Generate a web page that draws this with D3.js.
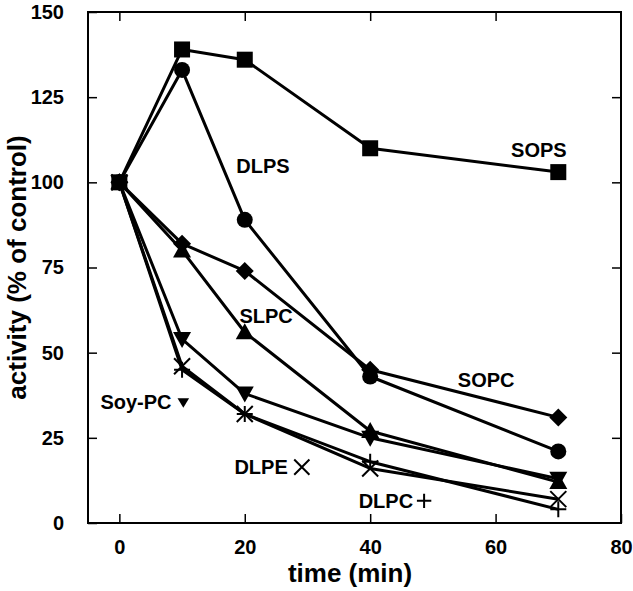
<!DOCTYPE html>
<html><head><meta charset="utf-8">
<script src="https://cdn.jsdelivr.net/npm/d3@7"></script>
<style>body{margin:0;background:#fff}svg text{font-family:"Liberation Sans",Arial,sans-serif;font-weight:bold;fill:#000}</style>
</head><body><svg id="c" width="633" height="591"></svg>
<script>
const times = [0, 10, 20, 40, 70];
const sops  = [100, 139, 136, 110, 103];
const dlps  = [100, 133, 89, 43, 21];
const sopc  = [100, 82, 74, 45, 31];
const slpc  = [100, 80, 56, 27, 12];
const soypc = [100, 54, 38, 25, 13];
const dlpe  = [100, 46, 32, 16, 7];
const dlpc  = [100, 45, 32, 18, 4];
const xTicks = [0, 20, 40, 60, 80];
const yTicks = [0, 25, 50, 75, 100, 125, 150];

const series = [
  {name:"SOPS", values:sops, marker:"square"},
  {name:"DLPS", values:dlps, marker:"circle"},
  {name:"SOPC", values:sopc, marker:"diamond"},
  {name:"SLPC", values:slpc, marker:"triangleUp"},
  {name:"Soy-PC", values:soypc, marker:"triangleDown"},
  {name:"DLPE", values:dlpe, marker:"x"},
  {name:"DLPC", values:dlpc, marker:"plus"}
];

const svg = d3.select("#c");
const L=88, R=621, T=12, B=523;
const x = d3.scaleLinear().domain([-5,80]).range([L,R]);
const y = d3.scaleLinear().domain([0,150]).range([B,T]);

// frame
svg.append("rect").attr("x",L).attr("y",T).attr("width",R-L).attr("height",B-T)
  .attr("fill","none").attr("stroke","#000").attr("stroke-width",2);

const tl = 9;
const ax = svg.append("g").attr("transform",`translate(0,${B})`)
  .call(d3.axisBottom(x).tickValues(xTicks).tickSizeInner(-tl).tickSizeOuter(0).tickPadding(tl+8));
const ay = svg.append("g").attr("transform",`translate(${L},0)`)
  .call(d3.axisLeft(y).tickValues(yTicks).tickSizeInner(-tl).tickSizeOuter(0).tickPadding(tl+15));
const axT = svg.append("g").attr("transform",`translate(0,${T})`)
  .call(d3.axisTop(x).tickValues(xTicks.filter(d=>d<80)).tickSizeInner(-tl).tickSizeOuter(0).tickFormat(""));
const ayR = svg.append("g").attr("transform",`translate(${R},0)`)
  .call(d3.axisRight(y).tickValues(yTicks.filter(d=>d>0&&d<150)).tickSizeInner(-tl).tickSizeOuter(0).tickFormat(""));
[ax,ay,axT,ayR].forEach(g=>{
  g.select(".domain").remove();
  g.selectAll("line").attr("stroke","#000").attr("stroke-width",1.5);
  g.selectAll("text").style("font-size","20px").style("font-family","Liberation Sans, Arial, sans-serif").style("font-weight","bold");
});

// lines
const line = d3.line().x((d,i)=>x(times[i])).y(d=>y(d));
svg.append("g").selectAll("path").data(series).join("path")
  .attr("d",d=>line(d.values)).attr("fill","none").attr("stroke","#000")
  .attr("stroke-width",3).attr("stroke-linejoin","round");

// markers
function drawMarker(g, type, cx, cy, k){
  k = k || 1;
  const h = 8*k;
  if(type==="square") g.append("rect").attr("x",cx-h).attr("y",cy-h).attr("width",2*h).attr("height",2*h).attr("fill","#000");
  else if(type==="circle") g.append("circle").attr("cx",cx).attr("cy",cy).attr("r",h).attr("fill","#000");
  else if(type==="diamond") g.append("path").attr("d",`M${cx},${cy-h-1}L${cx+h+1},${cy}L${cx},${cy+h+1}L${cx-h-1},${cy}Z`).attr("fill","#000");
  else if(type==="triangleUp") g.append("path").attr("d",`M${cx},${cy-h-1}L${cx+h+1},${cy+h-1}L${cx-h-1},${cy+h-1}Z`).attr("fill","#000");
  else if(type==="triangleDown") g.append("path").attr("d",`M${cx},${cy+h+1}L${cx+h+1},${cy-h+1}L${cx-h-1},${cy-h+1}Z`).attr("fill","#000");
  else if(type==="x") g.append("path").attr("d",`M${cx-h},${cy-h}L${cx+h},${cy+h}M${cx+h},${cy-h}L${cx-h},${cy+h}`).attr("stroke","#000").attr("stroke-width",2);
  else if(type==="plus") g.append("path").attr("d",`M${cx-h},${cy}L${cx+h},${cy}M${cx},${cy-h}L${cx},${cy+h}`).attr("stroke","#000").attr("stroke-width",2);
}
const mg = svg.append("g");
series.forEach(s=>s.values.forEach((v,i)=>drawMarker(mg, s.marker, x(times[i]), y(v))));

// series labels (positions in data units)
const labels = [
  {text:"SOPS", t:66.9, v:109.5},
  {text:"DLPS", t:22.9, v:104.8},
  {text:"SLPC", t:23.4, v:60.8},
  {text:"SOPC", t:58.5, v:42.0},
  {text:"Soy-PC", t:2.65, v:35.5, marker:"triangleDown", mt:10.2, k:0.6},
  {text:"DLPE", t:22.6, v:16.4, marker:"x", mt:29.1, k:0.95},
  {text:"DLPC", t:42.5, v:6.5, marker:"plus", mt:48.6, k:0.9}
];
const lg = svg.append("g");
labels.forEach(d=>{
  lg.append("text").attr("x",x(d.t)).attr("y",y(d.v)).attr("text-anchor","middle")
    .attr("dy","0.35em").style("font-size","20px").text(d.text);
  if(d.marker) drawMarker(lg, d.marker, x(d.mt), y(d.v), d.k);
});

// axis titles
svg.append("text").attr("x",350).attr("y",582).attr("text-anchor","middle")
  .style("font-size","26px").text("time (min)");
svg.append("text").attr("transform",`translate(26,${(T+B)/2}) rotate(-90)`).attr("text-anchor","middle")
  .style("font-size","26px").text("activity (% of control)");
</script></body></html>
